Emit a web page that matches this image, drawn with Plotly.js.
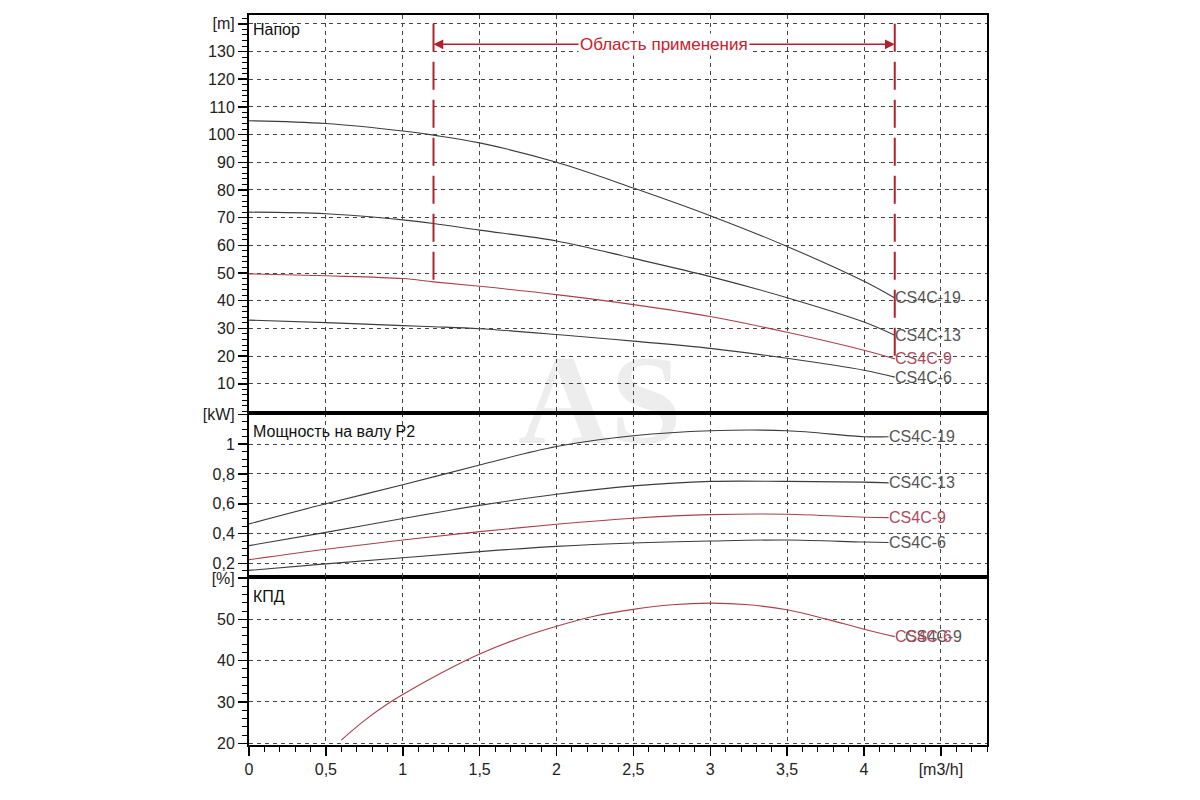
<!DOCTYPE html>
<html>
<head>
<meta charset="utf-8">
<script src="https://cdn.plot.ly/plotly-3.0.1.min.js"></script>
<style>
body{margin:0;background:#fff}
#chart{width:1200px;height:800px}
</style>
</head>
<body>
<div id="chart"></div>
<script>
// head curves [m]
var flowHead = [0, 0.5, 1, 1.2, 1.5, 2, 2.5, 3, 3.5, 4, 4.2];
var head19 = [105, 104, 101.3, 99.8, 97, 90, 80.7, 70.7, 59.6, 47, 41];
var head13 = [72, 71.4, 69.2, 67.9, 65.5, 61.6, 55.3, 48.7, 41.1, 32.3, 27.5];
var head9  = [49.7, 49, 48, 46.8, 45.2, 42.2, 38.6, 34.3, 28.6, 22.1, 19];
var head6  = [33, 32.1, 31, 30.6, 29.9, 27.8, 25.4, 22.8, 19.2, 14.9, 12.4];

// shaft power P2 [kW]
var flowPower = [0, 0.5, 1, 1.5, 2, 2.5, 3, 3.5, 4, 4.16];
var power19 = [0.465, 0.6, 0.727, 0.86, 0.984, 1.056, 1.09, 1.09, 1.05, 1.05];
var power13 = [0.319, 0.408, 0.501, 0.589, 0.664, 0.72, 0.75, 0.75, 0.745, 0.74];
var power9  = [0.225, 0.295, 0.357, 0.413, 0.463, 0.503, 0.527, 0.53, 0.51, 0.507];
var power6  = [0.153, 0.197, 0.238, 0.279, 0.314, 0.337, 0.35, 0.357, 0.343, 0.34];

// efficiency [%]
var flowEff = [0.6, 0.75, 0.9, 1, 1.25, 1.5, 1.75, 2, 2.25, 2.5, 2.75, 3, 3.25, 3.5, 3.75, 4, 4.2];
var eff = [20.8, 25.5, 29.5, 31.8, 37, 41.6, 45.3, 48.3, 50.8, 52.4, 53.5, 53.9, 53.5, 52.3, 50.1, 47.6, 45.8];

var pumpNames = ['CS4C-19', 'CS4C-13', 'CS4C-9', 'CS4C-6'];
var workRange = [1.2, 4.2];

var xTickVals = [0, 0.5, 1, 1.5, 2, 2.5, 3, 3.5, 4, 4.5];
var xTickText = ['0', '0,5', '1', '1,5', '2', '2,5', '3', '3,5', '4', '[m3/h]'];
var headTickVals = [10, 20, 30, 40, 50, 60, 70, 80, 90, 100, 110, 120, 130, 140];
var headTickText = ['10', '20', '30', '40', '50', '60', '70', '80', '90', '100', '110', '120', '130', '[m]'];
var powerTickVals = [0.2, 0.4, 0.6, 0.8, 1, 1.2];
var powerTickText = ['0,2', '0,4', '0,6', '0,8', '1', '[kW]'];
var effTickVals = [20, 30, 40, 50, 60];
var effTickText = ['20', '30', '40', '50', '[%]'];

var dark = '#3c3c3c';
var red = '#a8404c';
var labelGray = '#555';
var labelRed = '#b04a5e';
var limitRed = '#b3202c';
var colors = [dark, dark, red, dark];
var labelColors = [labelGray, labelGray, labelRed, labelGray];

var heads = [head19, head13, head9, head6];
var powers = [power19, power13, power9, power6];

var data = [];
var ann = [];

function line(x, y, xa, ya, c){
	return {x: x, y: y, xaxis: xa, yaxis: ya, type: 'scatter', mode: 'lines',
		line: {color: c, width: 1.1, shape: 'spline', smoothing: 1}, hoverinfo: 'skip'};
}
function endLabel(txt, x, y, xa, ya, c, xs){
	return {text: txt, x: x, y: y, xref: xa, yref: ya, xanchor: 'left', yanchor: 'middle',
		showarrow: false, xshift: xs || 0, font: {size: 16, color: c}};
}

for(var i = 0; i < heads.length; i++){
	data.push(line(flowHead, heads[i], 'x3', 'y3', colors[i]));
	ann.push(endLabel(pumpNames[i], flowHead[flowHead.length-1], heads[i][heads[i].length-1], 'x3', 'y3', labelColors[i], -2));
}
for(var i = 0; i < powers.length; i++){
	data.push(line(flowPower, powers[i], 'x2', 'y2', colors[i]));
	ann.push(endLabel(pumpNames[i], flowPower[flowPower.length-1], powers[i][powers[i].length-1], 'x2', 'y2', labelColors[i], -2));
}
data.push(line(flowEff, eff, 'x', 'y', red));
var effEnd = eff[eff.length-1];
ann.push(endLabel('CS4C-9', flowEff[flowEff.length-1], effEnd, 'x', 'y', labelGray, 8));
ann.push(endLabel('CS4C-6', flowEff[flowEff.length-1], effEnd, 'x', 'y', labelRed, -2));

// panel titles
ann.push({text: 'Напор', x: 0, y: 138, xref: 'x3', yref: 'y3', xanchor: 'left', yanchor: 'middle', xshift: 2, showarrow: false, font: {size: 16, color: '#111'}});
ann.push({text: 'Мощность на валу P2', x: 0, y: 1.085, xref: 'x2', yref: 'y2', xanchor: 'left', yanchor: 'middle', xshift: 2, showarrow: false, font: {size: 16, color: '#111'}});
ann.push({text: 'КПД', x: 0, y: 55.5, xref: 'x', yref: 'y', xanchor: 'left', yanchor: 'middle', xshift: 2, showarrow: false, font: {size: 16, color: '#111'}});

// application range arrow
var arrowY = 132.6;
var mid = (workRange[0] + workRange[1]) / 2;
ann.push({text: '', x: workRange[0], y: arrowY, ax: mid, ay: arrowY, xref: 'x3', yref: 'y3', axref: 'x3', ayref: 'y3',
	showarrow: true, arrowhead: 2, arrowsize: 1.3, arrowwidth: 1.5, arrowcolor: limitRed});
ann.push({text: '', x: workRange[1], y: arrowY, ax: mid, ay: arrowY, xref: 'x3', yref: 'y3', axref: 'x3', ayref: 'y3',
	showarrow: true, arrowhead: 2, arrowsize: 1.3, arrowwidth: 1.5, arrowcolor: limitRed});
ann.push({text: 'Область применения', x: 2.7, y: arrowY, xref: 'x3', yref: 'y3', showarrow: false,
	bgcolor: '#fff', borderpad: 1, font: {size: 17, color: '#c8202c'}});

// watermark
ann.push({text: '<b>AS</b>', x: 0.4756, y: 0.4726, xref: 'paper', yref: 'paper', showarrow: false,
	font: {family: 'Liberation Serif, DejaVu Serif, serif', size: 128, color: 'rgba(0,0,0,0.07)'}});

var shapes = [
	{type: 'line', xref: 'x3', yref: 'y3', x0: workRange[0], x1: workRange[0], y0: 140, y1: head9[3],
		line: {color: limitRed, width: 2, dash: '28px,10px'}},
	{type: 'line', xref: 'x3', yref: 'y3', x0: workRange[1], x1: workRange[1], y0: 140, y1: head9[head9.length-1],
		line: {color: limitRed, width: 2, dash: '28px,10px'}}
];

var gridStyle = {showgrid: true, gridcolor: '#444', gridwidth: 1, griddash: '4px,4px', zeroline: false,
	showline: true, linecolor: '#000', linewidth: 2, mirror: true};

function xa(anchor, bottom){
	var a = Object.assign({}, gridStyle, {anchor: anchor, range: [0, 4.8], tickmode: 'array', tickvals: xTickVals, ticktext: xTickText});
	if(bottom){
		a.ticks = 'outside'; a.ticklen = 9; a.tickcolor = '#000'; a.tickwidth = 1.5;
		a.minor = {dtick: 0.1, tick0: 0, ticks: 'outside', ticklen: 5, tickcolor: '#000', tickwidth: 1, showgrid: false};
		a.tickfont = {size: 16, color: '#222'};
	}else{
		a.matches = 'x'; a.showticklabels = false; a.ticks = '';
	}
	return a;
}
function ya(anchor, dom, rng, tv, tt, mdt){
	return Object.assign({}, gridStyle, {anchor: anchor, domain: dom, range: rng, tickmode: 'array', tickvals: tv, ticktext: tt,
		ticks: 'outside', ticklen: 9, tickcolor: '#000', tickwidth: 1.5, tickfont: {size: 16, color: '#222'},
		minor: {dtick: mdt, ticks: 'outside', ticklen: 5, tickcolor: '#000', tickwidth: 1, showgrid: false}});
}

var layout = {
	width: 1200, height: 800,
	margin: {l: 249, r: 213, t: 15, b: 55},
	paper_bgcolor: '#fff', plot_bgcolor: '#fff',
	showlegend: false,
	font: {family: 'Liberation Sans, Arial, sans-serif', size: 16, color: '#222'},
	xaxis: xa('y', true),
	xaxis2: xa('y2', false),
	xaxis3: xa('y3', false),
	yaxis: ya('x', [0, 0.23], [19.6, 60.2], effTickVals, effTickText, 2),
	yaxis2: ya('x2', [0.23, 0.455], [0.108, 1.21], powerTickVals, powerTickText, 0.05),
	yaxis3: ya('x3', [0.455, 1], [-0.5, 143.2], headTickVals, headTickText, 2),
	annotations: ann,
	shapes: shapes
};

Plotly.newPlot('chart', data, layout, {displayModeBar: false, staticPlot: true});
</script>
</body>
</html>
